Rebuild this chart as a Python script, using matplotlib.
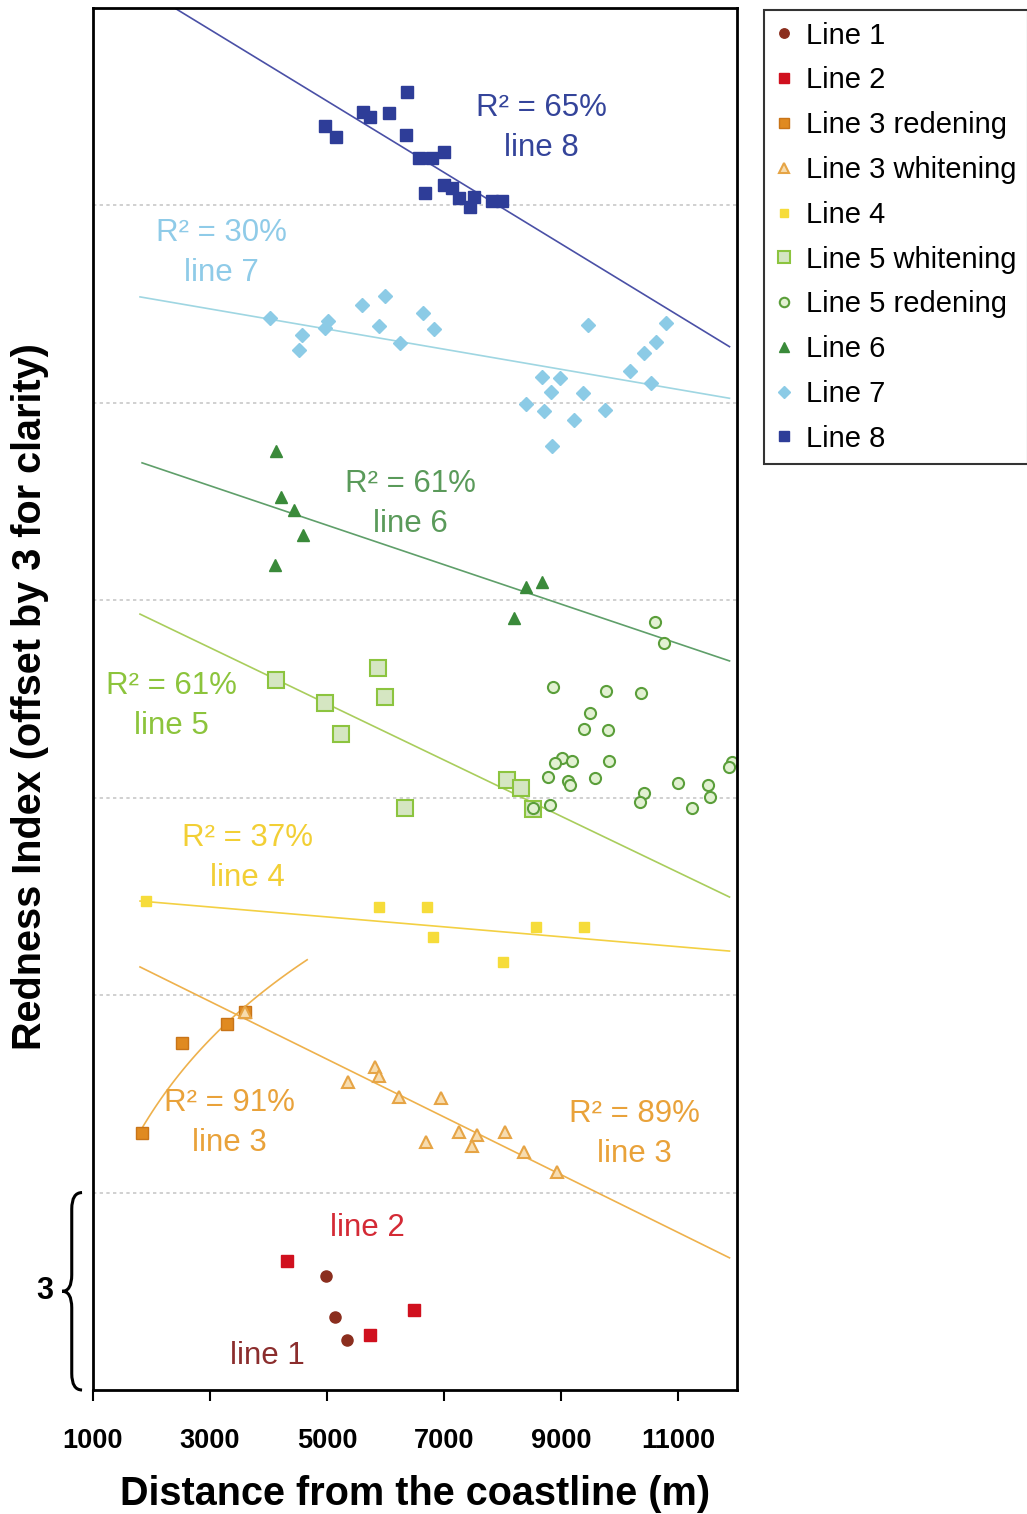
import numpy as np
import matplotlib
matplotlib.use("Agg")
import matplotlib.pyplot as plt
import matplotlib.transforms as mtransforms
from matplotlib.path import Path
from matplotlib.patches import PathPatch

plt.rcParams['font.family'] = ['Liberation Sans', 'DejaVu Sans']

# ---- data (distance in m, redness index offset by 3 per line) ----
line1_x = [4983, 5137, 5342]
line1_y = [1.73, 1.11, 0.76]

line2_x = [4316, 6487, 5735]
line2_y = [1.96, 1.22, 0.84]

line3r_x = [1838, 2521, 3291, 3598]
line3r_y = [3.91, 5.27, 5.56, 5.74]

line3w_x = [3598, 5359, 5821, 5889, 6231, 6949, 6692, 7256, 7564, 7479, 8043, 8368, 8932]
line3w_y = [5.74, 4.68, 4.91, 4.77, 4.45, 4.44, 3.77, 3.92, 3.87, 3.71, 3.92, 3.62, 3.31]

line4_x = [1906, 5889, 6709, 6812, 8009, 8573, 9393]
line4_y = [7.43, 7.34, 7.34, 6.88, 6.50, 7.04, 7.04]

line5w_x = [4128, 4966, 5239, 5872, 5991, 6333, 8077, 8316, 8521]
line5w_y = [10.79, 10.44, 9.97, 10.97, 10.53, 8.84, 9.27, 9.15, 8.83]

line5r_x = [10607, 10761, 8863, 9769, 10367, 9496, 9393, 9803, 9820, 9017, 8897, 9188, 8778,
            9120, 9154, 9581, 11000, 11513, 11547, 11239, 10419, 10350, 8812, 8521, 11923, 11855]
line5r_y = [11.67, 11.35, 10.68, 10.62, 10.59, 10.29, 10.04, 10.03, 9.56, 9.60, 9.53, 9.56, 9.31,
            9.25, 9.19, 9.30, 9.22, 9.19, 9.01, 8.84, 9.07, 8.93, 8.89, 8.84, 9.54, 9.47]

line6_x = [4128, 4214, 4436, 4590, 4111, 8402, 8675, 8197]
line6_y = [14.27, 13.57, 13.37, 12.99, 12.54, 12.20, 12.28, 11.73]

line7_x = [4026, 4573, 4521, 5017, 4966, 5598, 5991, 5889, 6641, 6829, 6248, 9462, 8675,
           8983, 8829, 9376, 8402, 8709, 9222, 9752, 8846, 10179, 10419, 10624, 10795, 10539]
line7_y = [16.29, 16.03, 15.80, 16.24, 16.14, 16.49, 16.62, 16.17, 16.37, 16.12, 15.91, 16.18, 15.39,
           15.38, 15.16, 15.15, 14.98, 14.88, 14.74, 14.89, 14.34, 15.48, 15.76, 15.92, 16.21, 15.30]

line8_x = [4966, 5154, 5615, 5735, 6060, 6368, 6350, 6573, 6795, 7000, 6675, 7000, 7137,
           7256, 7444, 7513, 7820, 7991]
line8_y = [19.21, 19.04, 19.42, 19.34, 19.40, 19.72, 19.07, 18.72, 18.72, 18.81, 18.19, 18.31, 18.27,
           18.11, 17.98, 18.13, 18.07, 18.07]

# linear trend lines: intercept, slope, x range
trend_names = ['line 8', 'line 7', 'line 6', 'line 5', 'line 4', 'line 3']
trend_a = [22.30, 16.886, 14.64, 12.56, 7.566, 7.22]
trend_b = [-0.000543, -0.000153, -0.0003, -0.000427, -0.0000755, -0.000439]
trend_x0 = [1800, 1803, 1838, 1803, 1803, 1803]
trend_x1 = [11872, 11872, 11872, 11872, 11872, 11872]
trend_colors = ['#4a50a6', '#9fd6e2', '#5f9f6a', '#a9cd5c', '#f3d043', '#eeb14c']

# logarithmic trend for line 3 redening: y = a + b*ln(x)
log_a, log_b = -16.69, 2.75
log_x0, log_x1 = 1838, 4658

r2_labels = ['R² = 65%', 'R² = 30%', 'R² = 61%', 'R² = 61%', 'R² = 37%', 'R² = 91%', 'R² = 89%']
r2_names = ['line 8', 'line 7', 'line 6', 'line 5', 'line 4', 'line 3', 'line 3']
r2_x = [8658, 3188, 6419, 2333, 3633, 3325, 10248]
r2_y = [19.48, 17.58, 13.77, 10.70, 8.39, 4.36, 4.19]
r2_colors = ['#34449a', '#8fcbe8', '#5a9a5a', '#8cc43c', '#f2cf35', '#e9a23a', '#e9a23a']

fig = plt.figure(figsize=(10.27, 15.14), dpi=100)
ax = fig.add_axes([93 / 1027, 124 / 1514, 644 / 1027, 1382 / 1514])

ms_kw = dict(linestyle='none')
ax.plot(line1_x, line1_y, 'o', color='#8b2e1e', ms=8, label='Line 1', **ms_kw)
ax.plot(line2_x, line2_y, 's', color='#d0101e', ms=8, label='Line 2', **ms_kw)
ax.plot(line3r_x, line3r_y, 's', mfc='#e08a20', mec='#c87418', ms=8.5, label='Line 3 redening', **ms_kw)
ax.plot(line3w_x, line3w_y, '^', mfc='#f7dcae', mec='#e6a445', mew=1.5, ms=9, label='Line 3 whitening', **ms_kw)
ax.plot(line4_x, line4_y, 's', color='#f6dc3a', ms=7.5, label='Line 4', **ms_kw)
ax.plot(line5w_x, line5w_y, 's', mfc='#d5e6c2', mec='#8cc43f', mew=1.5, ms=11, label='Line 5 whitening', **ms_kw)
ax.plot(line5r_x, line5r_y, 'o', mfc='#e2f1d2', mec='#5a9e3a', mew=1.5, ms=8, label='Line 5 redening', **ms_kw)
ax.plot(line6_x, line6_y, '^', color='#3a8a3a', ms=9, label='Line 6', **ms_kw)
ax.plot(line7_x, line7_y, 'D', color='#8ccbe6', ms=7.5, label='Line 7', **ms_kw)
ax.plot(line8_x, line8_y, 's', color='#2e3d98', ms=8, label='Line 8', **ms_kw)

# trend lines
for a, b, x0, x1, c in zip(trend_a, trend_b, trend_x0, trend_x1, trend_colors):
    xs = np.array([x0, x1])
    ax.plot(xs, a + b * xs, color=c, lw=1.2, zorder=1)
xs = np.linspace(log_x0, log_x1, 50)
ax.plot(xs, log_a + log_b * np.log(xs), color='#eeb14c', lw=1.2, zorder=1)

# labels on the chart
for t, n, x, y, c in zip(r2_labels, r2_names, r2_x, r2_y, r2_colors):
    ax.text(x, y, t, color=c, fontsize=22.5, ha='center', va='center')
    ax.text(x, y - 0.61, n, color=c, fontsize=22.5, ha='center', va='center')
ax.text(5684, 2.46, 'line 2', color='#d42a35', fontsize=22.5, ha='center', va='center')
ax.text(3974, 0.52, 'line 1', color='#8b2d2d', fontsize=22.5, ha='center', va='center')

ax.set_xlim(1000, 12000)
ax.set_ylim(0, 21)
ax.set_xticks([1000, 3000, 5000, 7000, 9000, 11000])
ax.set_yticks([3, 6, 9, 12, 15, 18])
ax.set_yticklabels([])
ax.tick_params(axis='y', length=0)
ax.tick_params(axis='x', length=8, width=1.5, pad=19, labelsize=19.5)
for lab in ax.get_xticklabels():
    lab.set_fontweight('bold')
ax.yaxis.grid(True, linestyle=(0, (2, 2)), color='#c8c8c8', lw=1.2)
ax.set_axisbelow(True)
for sp in ax.spines.values():
    sp.set_linewidth(2)
    sp.set_color('black')

fig.text(415 / 1027, 1 - 1494 / 1514, 'Distance from the coastline (m)',
         fontsize=28.5, fontweight='bold', ha='center', va='center')
fig.text(30 / 1027, 1 - 697 / 1514, 'Redness Index (offset by 3 for clarity)',
         fontsize=28.5, fontweight='bold', ha='center', va='center', rotation=90)

# curly brace showing the offset of 3
trans = mtransforms.blended_transform_factory(ax.transAxes, ax.transData)
bx_end, bx_mid, bx_tip = -0.017, -0.033, -0.048
verts = [(bx_end, 3.0), (bx_mid, 3.0), (bx_mid, 2.75),
         (bx_mid, 1.75),
         (bx_mid, 1.5), (bx_tip, 1.5),
         (bx_mid, 1.5), (bx_mid, 1.25),
         (bx_mid, 0.25),
         (bx_mid, 0.0), (bx_end, 0.0)]
codes = [Path.MOVETO, Path.CURVE3, Path.CURVE3, Path.LINETO,
         Path.CURVE3, Path.CURVE3, Path.CURVE3, Path.CURVE3,
         Path.LINETO, Path.CURVE3, Path.CURVE3]
ax.add_patch(PathPatch(Path(verts, codes), transform=trans, fill=False,
                       lw=2.2, color='black', clip_on=False))
ax.text(-0.075, 1.5, '3', transform=trans, fontsize=22, fontweight='bold',
        ha='center', va='center')

leg = ax.legend(loc='upper left', bbox_to_anchor=(764 / 1027, 1 - 10 / 1514),
                bbox_transform=fig.transFigure, fontsize=21, frameon=True,
                fancybox=False, edgecolor='black', markerscale=0.85,
                handlelength=0.6, handletextpad=0.45, labelspacing=0.575,
                borderpad=0.4, borderaxespad=0)
leg.get_frame().set_linewidth(1.5)

fig.savefig('out.png', dpi=100)
